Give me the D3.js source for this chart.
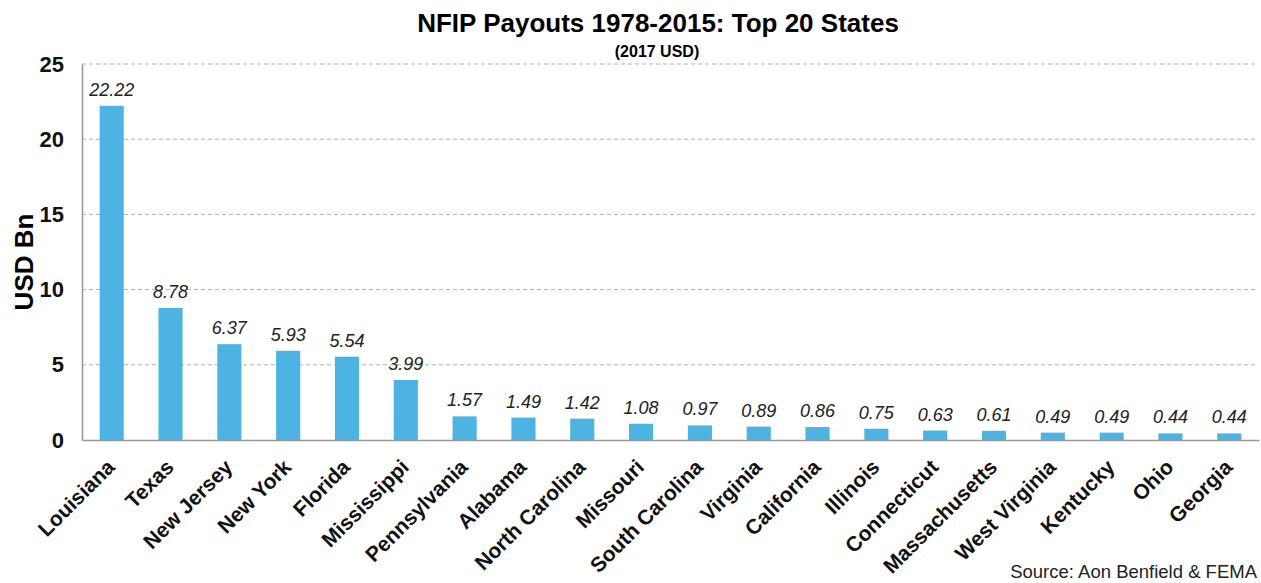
<!DOCTYPE html>
<html>
<head>
<meta charset="utf-8">
<script src="https://cdn.jsdelivr.net/npm/d3@7"></script>
<style>
  body { margin: 0; background: #fff; }
  svg { font-family: "Liberation Sans", Arial, sans-serif; }
</style>
</head>
<body>
<div id="chart"></div>
<script>
const states = ["Louisiana", "Texas", "New Jersey", "New York", "Florida", "Mississippi",
    "Pennsylvania", "Alabama", "North Carolina", "Missouri", "South Carolina", "Virginia",
    "California", "Illinois", "Connecticut", "Massachusetts", "West Virginia", "Kentucky",
    "Ohio", "Georgia"];
const payouts = [22.22, 8.78, 6.37, 5.93, 5.54, 3.99, 1.57, 1.49, 1.42, 1.08, 0.97, 0.89,
    0.86, 0.75, 0.63, 0.61, 0.49, 0.49, 0.44, 0.44];
const yTicks = [0, 5, 10, 15, 20, 25];

const width = 1261, height = 583;
const margin = { top: 64, right: 2, bottom: 143, left: 82 };

const svg = d3.select("#chart").append("svg")
    .attr("width", width)
    .attr("height", height);

const x = d3.scaleBand()
    .domain(states)
    .range([margin.left, width - margin.right])
    .paddingInner(0.59)
    .paddingOuter(0.3);

const y = d3.scaleLinear()
    .domain([0, 25])
    .range([height - margin.bottom, margin.top]);

// title
svg.append("text")
    .attr("x", 658).attr("y", 32)
    .attr("text-anchor", "middle")
    .style("font-size", "26px").style("font-weight", "bold")
    .text("NFIP Payouts 1978-2015: Top 20 States");
svg.append("text")
    .attr("x", 657).attr("y", 57)
    .attr("text-anchor", "middle")
    .style("font-size", "16px").style("font-weight", "bold")
    .text("(2017 USD)");

// dashed grid lines
svg.append("g").selectAll("line")
    .data(yTicks.filter(d => d > 0))
    .enter().append("line")
    .attr("x1", margin.left).attr("x2", width - 4)
    .attr("y1", d => y(d)).attr("y2", d => y(d))
    .attr("stroke", "#b0b0b0")
    .attr("stroke-dasharray", "4,3");

// y axis
const yAxis = svg.append("g")
    .attr("transform", "translate(" + margin.left + ",0)")
    .call(d3.axisLeft(y).tickValues(yTicks).tickSize(0).tickPadding(18));
yAxis.select(".domain").attr("stroke", "#999").attr("stroke-width", 1.5);
yAxis.selectAll("text")
    .style("font-size", "22px").style("font-weight", "bold").attr("fill", "#111");

svg.append("text")
    .attr("transform", "translate(33," + 262 + ") rotate(-90)")
    .attr("text-anchor", "middle")
    .style("font-size", "26px").style("font-weight", "bold")
    .text("USD Bn");

// bars
svg.append("g").selectAll("rect")
    .data(payouts)
    .enter().append("rect")
    .attr("x", (d, i) => x(states[i]))
    .attr("y", d => y(d))
    .attr("width", x.bandwidth())
    .attr("height", d => y(0) - y(d))
    .attr("fill", "#4db3e2");

// value labels
svg.append("g").selectAll("text")
    .data(payouts)
    .enter().append("text")
    .attr("x", (d, i) => x(states[i]) + x.bandwidth() / 2)
    .attr("y", d => y(d) - 10)
    .attr("text-anchor", "middle")
    .style("font-size", "18px").style("font-style", "italic")
    .attr("fill", "#222")
    .text(d => d.toFixed(2));

// x axis
const xAxis = svg.append("g")
    .attr("transform", "translate(0," + y(0) + ")")
    .call(d3.axisBottom(x).tickSize(0).tickSizeOuter(0));
xAxis.select(".domain").attr("stroke", "#999").attr("stroke-width", 1.5);
xAxis.selectAll("text")
    .attr("text-anchor", "end")
    .attr("transform", "translate(-6,18) rotate(-45)")
    .attr("dy", "0.7em")
    .attr("y", 0)
    .style("font-size", "21px").style("font-weight", "bold")
    .attr("fill", "#111");

svg.append("text")
    .attr("x", width - 4).attr("y", 578)
    .attr("text-anchor", "end")
    .style("font-size", "18.5px")
    .attr("fill", "#222")
    .text("Source: Aon Benfield & FEMA");
</script>
</body>
</html>
